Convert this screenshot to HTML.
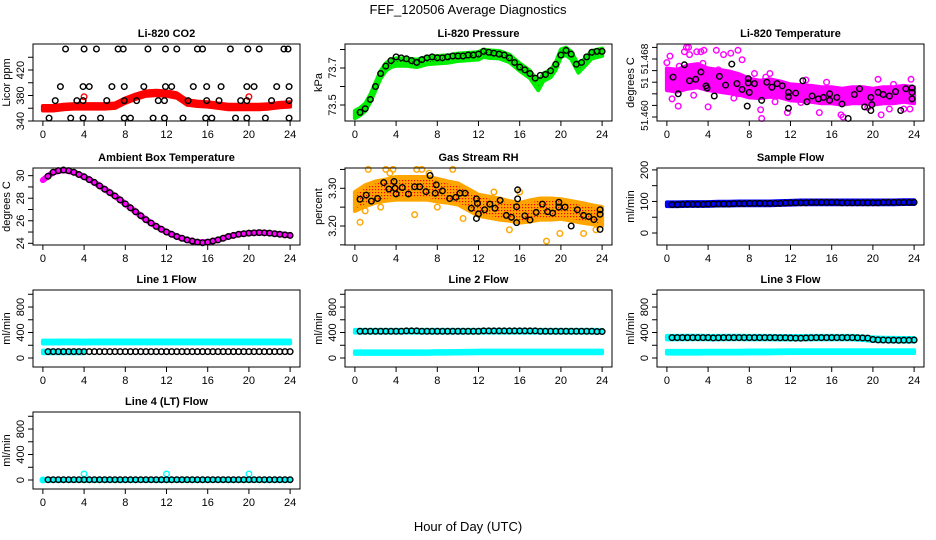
<!DOCTYPE html>
<html><head><meta charset="utf-8"><style>
html,body{margin:0;padding:0;background:#fff;}
svg{display:block;font-family:"Liberation Sans",sans-serif;}
</style></head><body>
<svg id="chart" width="936" height="540" viewBox="0 0 936 540">
<defs>
<pattern id="rhPat" width="3" height="3" patternUnits="userSpaceOnUse"><rect width="3" height="3" fill="#ffa500"/><rect x="0" y="0" width="1.2" height="1.2" fill="#ff0000"/></pattern>
<pattern id="prPat" width="3" height="3" patternUnits="userSpaceOnUse"><rect width="3" height="3" fill="#00ee00"/><rect x="1" y="1" width="1" height="1" fill="#006600"/></pattern>
</defs>
<text x="468" y="14" text-anchor="middle" font-size="13">FEF_120506  Average Diagnostics</text>
<text x="468" y="531" text-anchor="middle" font-size="13">Hour of Day (UTC)</text>
</svg>
<script>
// ---------- data ----------
const blackHours=[0.5,1,1.5,2,2.5,3,3.5,4,4.5,5,5.5,6,6.5,7,7.5,8,8.5,9,9.5,10,10.5,11,11.5,12,12.5,13,13.5,14,14.5,15,15.5,16,16.5,17,17.5,18,18.5,19,19.5,20,20.5,21,21.5,22,22.5,23,23.5,24];
const hourly=[0,1,2,3,4,5,6,7,8,9,10,11,12,13,14,15,16,17,18,19,20,21,22,23,24];
// CO2
const co2Red=[360,360,362,363,363,363,363,364,372,378,383,384,383,380,369,367,366,364,362,362,362,362,363,365,366];
const co2LvlA=[2.2,4,5.2,7.3,7.8,10.2,11.9,13,15,15.5,18.2,19.9,21,23.4,23.8];
const co2LvlB=[1.7,3.9,4.5,6.7,7.9,9.8,11.9,12.5,14.6,15.9,17.3,19.8,20.5,22.7,23.9];
const co2LvlC=[1.2,3.3,3.9,6.2,7.9,9.1,11.2,11.8,14.1,15.9,17.1,19.2,19.8,22.2,23.9];
const co2LvlD=[0.6,2.7,3.9,5.6,7.9,8.5,10.7,11.8,13.6,15.8,16.4,18.7,19.8,21.6,23.9];
const co2Levels=[453,394,372,344.6];
// Pressure
const prH=[0,0.5,1,1.5,2,2.5,3,3.5,4,5,6,7,8,9,10,11,12,12.5,13,14,15,16,17,17.8,18.3,19,19.5,20,20.5,21,21.7,22.3,23,24];
const prV=[73.449,73.464,73.487,73.536,73.6,73.664,73.705,73.725,73.732,73.732,73.725,73.74,73.745,73.748,73.758,73.762,73.766,73.78,73.775,73.772,73.752,73.705,73.665,73.6,73.65,73.67,73.71,73.78,73.79,73.768,73.695,73.73,73.772,73.785];
const prBlack=[73.46,73.48,73.53,73.6,73.67,73.71,73.74,73.76,73.755,73.75,73.74,73.73,73.745,73.755,73.76,73.755,73.755,73.76,73.765,73.765,73.765,73.77,73.77,73.775,73.79,73.785,73.78,73.775,73.77,73.755,73.73,73.705,73.69,73.67,73.645,73.66,73.665,73.685,73.72,73.77,73.795,73.775,73.72,73.73,73.76,73.785,73.79,73.79];
// Li-820 temperature
const tMag=[51.4652,51.4650,51.4655,51.4657,51.4652,51.4650,51.4648,51.4645,51.4640,51.4638,51.4640,51.4638,51.4634,51.4633,51.4632,51.4630,51.4630,51.4628,51.4630,51.4630,51.4628,51.4630,51.4630,51.4632,51.4630];
const tMagSpread=[0.0015,0.0015,0.0016,0.0016,0.0015,0.0015,0.0015,0.0014,0.0013,0.0012,0.0012,0.0011,0.0011,0.0011,0.0011,0.0011,0.0011,0.0011,0.0011,0.0011,0.0011,0.0011,0.0011,0.0011,0.0011];
const tOutH=[0,0.3,0.5,0.5,1.1,1.7,1.9,2.1,2.2,2.9,3.3,3.6,3.5,4.8,5.5,6.2,6.9,7.3,8.5,9.2,9.1,10,11.7,14.8,16.9,17.1,19.5,20.5,20.8,21.6,23,23.7,23.6,12.3,13.5,4,6.5,10.5,1.2,2.6,5.0,7.0,9.6,13.0,15.5,18.5,22.0];
const tOutV=[51.4675,51.4684,51.4649,51.4625,51.4615,51.4690,51.4696,51.4696,51.4686,51.4690,51.4690,51.4692,51.4674,51.4692,51.4686,51.4688,51.4692,51.4679,51.4660,51.4598,51.4610,51.4660,51.4606,51.4606,51.4603,51.4600,51.4613,51.4652,51.4603,51.4611,51.4611,51.4652,51.4611,51.4642,51.4651,51.4614,51.4626,51.4621,51.4670,51.4630,51.4665,51.4632,51.4655,51.4620,51.4648,51.4622,51.4645];
const tBlkH=[0.6,1.1,1.7,2.2,2.8,3.3,3.8,3.9,4.6,5.1,5.7,6.3,6.8,7.3,7.9,7.9,8,7.8,8.5,9.2,9.7,10.2,10.7,11.2,11.8,11.8,11.8,12.5,13.2,13.6,14.1,14.7,15.2,15.8,15.8,16.5,17,17.6,18.2,18.7,19.2,19.8,19.8,19.9,20.5,21,21.6,22.2,22.7,23.2,23.8,23.8,23.8];
const tBlkV=[51.4655,51.4632,51.4672,51.4650,51.4652,51.4662,51.4643,51.4640,51.4629,51.4656,51.4644,51.4673,51.4646,51.4638,51.4647,51.4653,51.4634,51.4615,51.4646,51.4623,51.4648,51.4641,51.4646,51.4643,51.4634,51.4628,51.4612,51.4633,51.4650,51.4621,51.4629,51.4625,51.4627,51.4632,51.4623,51.4627,51.4618,51.4598,51.4631,51.4639,51.4614,51.4627,51.4609,51.4617,51.4634,51.4631,51.4629,51.4635,51.4609,51.4639,51.4640,51.4634,51.4625];
// Ambient
const ambLine=[29.6,30.3,30.5,30.3,29.9,29.4,28.8,28.2,27.5,26.8,26.1,25.5,25.0,24.6,24.3,24.1,24.1,24.3,24.6,24.8,24.9,24.95,24.9,24.8,24.7];
const ambBlack=[29.95,30.3,30.45,30.5,30.45,30.3,30.1,29.9,29.65,29.4,29.1,28.8,28.5,28.2,27.85,27.5,27.15,26.8,26.45,26.1,25.8,25.5,25.25,25.0,24.8,24.6,24.45,24.3,24.2,24.1,24.05,24.1,24.2,24.3,24.45,24.6,24.7,24.8,24.85,24.9,24.93,24.95,24.93,24.9,24.85,24.8,24.75,24.7];
// RH
const rhCenter=[3.265,3.28,3.29,3.295,3.30,3.30,3.30,3.30,3.295,3.29,3.285,3.27,3.255,3.25,3.245,3.24,3.235,3.24,3.245,3.245,3.245,3.24,3.235,3.23,3.225];
const rhSpread=[0.025,0.028,0.028,0.028,0.03,0.03,0.03,0.03,0.03,0.028,0.028,0.028,0.028,0.028,0.028,0.026,0.026,0.028,0.028,0.028,0.026,0.026,0.026,0.025,0.025];
const rhBlkH=[0.5,1.1,1.6,2.2,2.8,3.3,3.8,3.9,4,4.6,5.2,5.8,6.3,6.9,7.3,7.9,7.8,8.5,9.2,9.8,10.2,10.7,11.3,11.8,11.9,12,11.8,12.6,13.1,13.6,14.1,14.7,15.2,15.8,15.8,15.7,15.7,16.5,17,17.6,18.2,18.7,19.2,19.8,19.8,20.4,21,21.6,22.2,22.7,23.2,23.8,23.8,23.8];
const rhBlkV=[3.271,3.282,3.266,3.273,3.315,3.298,3.318,3.30,3.285,3.302,3.285,3.304,3.304,3.291,3.334,3.309,3.287,3.293,3.273,3.276,3.287,3.287,3.247,3.272,3.26,3.232,3.22,3.243,3.258,3.247,3.268,3.228,3.223,3.296,3.272,3.251,3.209,3.227,3.216,3.236,3.258,3.238,3.234,3.263,3.25,3.25,3.20,3.243,3.228,3.225,3.217,3.243,3.231,3.191];
const rhOutH=[0.2,0.5,1.0,1.3,2.5,3.0,3.7,6.0,6.5,7.2,8.0,9.5,10.5,13.5,15.0,16.0,18.6,19.9,22.2,23.4,5.8,3.4];
const rhOutV=[3.25,3.21,3.24,3.35,3.25,3.35,3.35,3.35,3.35,3.34,3.25,3.35,3.22,3.29,3.19,3.29,3.16,3.18,3.18,3.19,3.23,3.34];
// Sample flow
const sfBlue=[91,91,92,92,92,93,93,94,94,94,94,95,96,97,97,97,97,97,97,97,97,97,97,98,98];
const sfBlack=[90,90,91,91,91,91,91,92,92,92,92,92,93,93,93,94,94,94,94,94,94,94,95,96,96,96,96,97,97,97,97,97,97,96,96,96,96,96,96,96,96,97,97,97,97,97,97,97];
// Line flows
const l1Upper=[250,250,252,252,250,252,252,252,252,252,252,252,252,252,252,252,252,252,252,252,252,252,252,252,252];
const l1LowH=[0,1,2,3,4];
const l1Low=[95,95,95,95,95];
const l1Black=[100,100,100,100,100,100,100,100,100,100,100,100,100,100,100,100,100,100,100,100,100,100,100,100,100,100,100,100,100,100,100,100,100,100,100,100,100,100,100,100,100,100,100,100,100,100,100,100];
const l2Upper=[420,420,420,420,420,420,420,420,420,420,420,420,420,420,420,420,420,420,420,420,420,420,420,420,420];
const l2Low=[85,85,85,85,85,85,85,85,88,88,90,92,95,95,95,95,95,95,95,95,95,95,95,95,95];
const l2Black=[420,420,420,420,420,420,420,420,420,425,425,425,420,420,420,420,420,420,420,420,420,420,420,420,425,425,425,425,425,425,425,425,425,425,425,420,420,420,420,420,420,420,420,420,420,420,415,415];
const l3Upper=[320,320,322,322,320,320,322,322,320,320,320,318,318,318,320,320,320,320,320,310,295,290,288,285,285];
const l3Low=[90,90,90,90,92,92,92,92,95,95,95,98,100,100,100,100,100,100,100,100,100,100,100,100,100];
const l3Black=[320,320,320,320,320,320,320,320,315,318,320,320,320,320,320,320,320,320,320,320,320,318,318,315,312,312,315,318,320,320,320,320,320,320,320,320,318,315,312,290,285,282,280,280,278,280,280,282];
const l4Cyan=[0,0,0,0,0,0,0,0,0,0,0,0,0,0,0,0,0,0,0,0,0,0,0,0,0];
const l4OutH=[0,4,12,20];
const l4OutV=[0,95,95,95];
const l4Black=[5,5,5,5,5,5,5,5,5,5,5,5,5,5,5,5,5,5,5,5,5,5,5,5,5,5,5,5,5,5,5,5,5,5,5,5,5,5,5,5,5,5,5,5,5,5,5,5];
const xTicks=[0,4,8,12,16,20,24];

// ---------- drawing ----------
const svg=document.getElementById('chart');
const NS='http://www.w3.org/2000/svg';
function mk(tag,attrs,parent){const e=document.createElementNS(NS,tag);for(const k in attrs)e.setAttribute(k,attrs[k]);(parent||svg).appendChild(e);return e;}
const rowTops=[44,168,290,412];
function makePanel(col,row,ymin,ymax,ticks,labels,title,ylab,name){
  const L=33+312*col,R=300+312*col,T=rowTops[row],B=T+77;
  const g=mk('g',{});
  
  
  const x=h=>L+(h+0.96)*(R-L)/25.92;
  const y=v=>B-(v-ymin)*(B-T)/(ymax-ymin);
  const marks=mk('g',{},g);
  
  
  const box=mk('rect',{x:L,y:T,width:R-L,height:B-T,fill:'none',stroke:'#000','stroke-width':1},g);
  
  
  const xa=mk('g',{},g);
  
  
  xTicks.forEach(t=>{mk('line',{x1:x(t),x2:x(t),y1:B,y2:B+5,stroke:'#000'},xa);
    const tx=mk('text',{x:x(t),y:B+17,'text-anchor':'middle','font-size':11},xa);tx.textContent=t;});
  const ya=mk('g',{},g);
  
  
  mk('line',{x1:L,x2:L,y1:y(ticks[0]),y2:y(ticks[ticks.length-1]),stroke:'#000'},ya);
  ticks.forEach(t=>{mk('line',{x1:L-5,x2:L,y1:y(t),y2:y(t),stroke:'#000'},ya);});
  labels.forEach(l=>{const yy=y(l[0]);const tx=mk('text',{x:L-9,y:yy,'text-anchor':'middle','font-size':l[2]||11,transform:`rotate(-90 ${L-9} ${yy})`},ya);tx.textContent=l[1];});
  const yt=mk('text',{x:L-23,y:(T+B)/2,'text-anchor':'middle','font-size':11,transform:`rotate(-90 ${L-23} ${(T+B)/2})`},g);
  yt.textContent=ylab;
  
  
  const tt=mk('text',{x:(L+R)/2,y:T-7,'text-anchor':'middle','font-size':11,'font-weight':'bold'},g);
  tt.textContent=title;
  
  
  return {x,y,g:marks};
}
function band(p,hs,center,spread,fill,nm){
  const up=hs.map((h,i)=>[p.x(h),p.y(center[i]+spread[i])]);
  const dn=hs.map((h,i)=>[p.x(h),p.y(center[i]-spread[i])]).reverse();
  const e=mk('polygon',{points:up.concat(dn).map(q=>q.join(',')).join(' '),fill:fill,stroke:fill==='url(#rhPat)'?'#ffa500':(fill==='url(#prPat)'?'#00ee00':fill),'stroke-width':4,'stroke-linejoin':'round'},p.g);
  
  
}
function line(p,hs,vals,color,w,nm){
  const e=mk('polyline',{points:hs.map((h,i)=>p.x(h)+','+p.y(vals[i])).join(' '),fill:'none',stroke:color,'stroke-width':w,'stroke-linejoin':'round','stroke-linecap':'round'},p.g);
  
  
}
function pts(p,hs,vals,color,nm){
  const gg=mk('g',{},p.g);
  
  
  hs.forEach((h,i)=>{const c=mk('circle',{cx:p.x(h),cy:p.y(vals[i]),r:2.8,fill:'none',stroke:color,'stroke-width':1.4},gg);
    
    });
}
const fill=(n,v)=>hourly.map(()=>v);

// Panel 1 CO2
let p=makePanel(0,0,340,460.8,[340,360,380,400,420,440],[[340,'340'],[380,'380'],[420,'420']],'Li-820 CO2','Licor ppm','co2');
band(p,hourly,co2Red,fill(0,3.5),'#ff0000','co2-red-series');
pts(p,[4,20],[378,378],'#ff0000','co2-red-outliers');
[co2LvlA,co2LvlB,co2LvlC,co2LvlD].forEach((hs,k)=>pts(p,hs,hs.map(()=>co2Levels[k]),'#000','co2-black-series'));
// Panel 2 Pressure
p=makePanel(1,0,73.4135,73.8297,[73.5,73.6,73.7,73.8],[[73.5,'73.5'],[73.7,'73.7']],'Li-820 Pressure','kPa','pressure');
band(p,prH,prV,prH.map(()=>0.02),'url(#prPat)','pressure-green-series');
pts(p,blackHours,prBlack,'#000','pressure-black-series');
// Panel 3 Temperature
p=makePanel(2,0,51.45945,51.47007,[51.460,51.4616,51.4632,51.4648,51.4664,51.468,51.4696],[[51.4602,'51.460',10],[51.4647,'51',10],[51.4680,'51.468',10]],'Li-820 Temperature','degrees C','li820-temp');
band(p,hourly,tMag,tMagSpread,'#ff00ff','temp-magenta-series');
pts(p,tOutH,tOutV,'#ff00ff','temp-magenta-outliers');
pts(p,tBlkH,tBlkV,'#000','temp-black-series');
// Panel 4 Ambient
p=makePanel(0,1,23.85,30.68,[24,25,26,27,28,29,30],[[24,'24'],[26,'26'],[28,'28'],[30,'30']],'Ambient Box Temperature','degrees C','ambient');
line(p,hourly,ambLine,'#ff00ff',6,'ambient-magenta-series');
pts(p,blackHours,ambBlack,'#000','ambient-black-series');
// Panel 5 RH
p=makePanel(1,1,3.1496,3.3538,[3.15,3.20,3.25,3.30,3.35],[[3.20,'3.20'],[3.30,'3.30']],'Gas Stream RH','percent','rh');
band(p,hourly,rhCenter,rhSpread,'url(#rhPat)','rh-orange-series');
pts(p,rhOutH,rhOutV,'#ffa500','rh-orange-outliers');
pts(p,rhBlkH,rhBlkV,'#000','rh-black-series');
// Panel 6 Sample flow
p=makePanel(2,1,-38,206,[0,50,100,150,200],[[0,'0'],[100,'100'],[200,'200']],'Sample Flow','ml/min','sample-flow');
band(p,hourly,sfBlue,fill(0,6),'#0000ff','sample-blue-series');
pts(p,blackHours,sfBlack,'#000','sample-black-series');
const flowTicks=[0,200,400,600,800,1000],flowLabels=[[0,'0'],[400,'400'],[800,'800']];
// Panel 7 Line 1
p=makePanel(0,2,-141,1067,flowTicks,flowLabels,'Line 1 Flow','ml/min','line1');
band(p,hourly,l1Upper,fill(0,22),'#00ffff','line1-cyan-upper');
band(p,l1LowH,l1Low,l1LowH.map(()=>20),'#00ffff','line1-cyan-lower');
pts(p,blackHours,l1Black,'#000','line1-black-series');
// Panel 8 Line 2
p=makePanel(1,2,-141,1067,flowTicks,flowLabels,'Line 2 Flow','ml/min','line2');
band(p,hourly,l2Upper,fill(0,22),'#00ffff','line2-cyan-upper');
band(p,hourly,l2Low,fill(0,20),'#00ffff','line2-cyan-lower');
pts(p,blackHours,l2Black,'#000','line2-black-series');
// Panel 9 Line 3
p=makePanel(2,2,-141,1067,flowTicks,flowLabels,'Line 3 Flow','ml/min','line3');
band(p,hourly,l3Upper,fill(0,28),'#00ffff','line3-cyan-upper');
band(p,hourly,l3Low,fill(0,22),'#00ffff','line3-cyan-lower');
pts(p,blackHours,l3Black,'#000','line3-black-series');
// Panel 10 Line 4
p=makePanel(0,3,-141,1067,flowTicks,flowLabels,'Line 4 (LT) Flow','ml/min','line4');
band(p,hourly,l4Cyan,fill(0,15),'#00ffff','line4-cyan-series');
pts(p,l4OutH,l4OutV,'#00ffff','line4-cyan-outliers');
pts(p,blackHours,l4Black,'#000','line4-black-series');
</script>
</body></html>
